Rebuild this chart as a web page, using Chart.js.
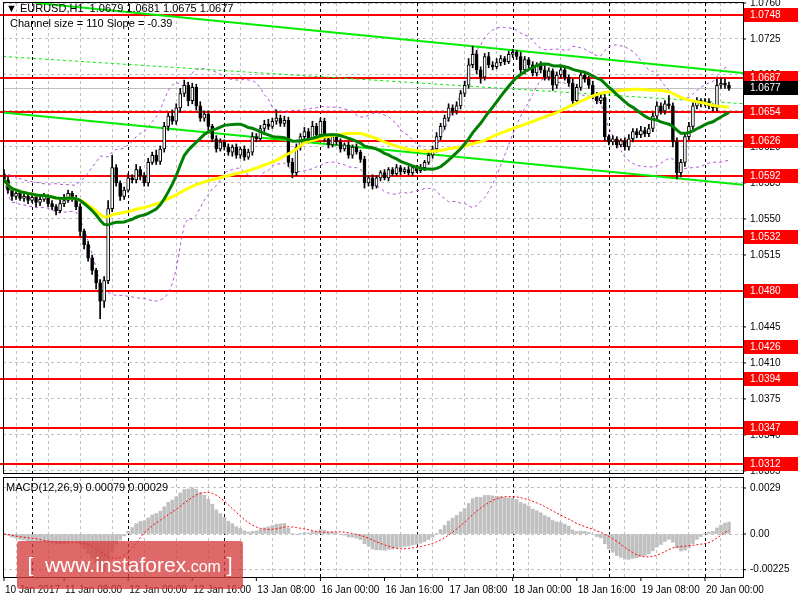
<!DOCTYPE html>
<html>
<head>
<meta charset="utf-8">
<script src="https://cdn.jsdelivr.net/npm/chart.js@4.4.1/dist/chart.umd.min.js"></script>
<style>
  body { margin: 0; background: #fff; width: 800px; height: 600px; overflow: hidden; font-family: "Liberation Sans", sans-serif; }
  #main { position: absolute; left: 0; top: 0; }
  #macd { position: absolute; left: 0; top: 476px; }
  .txt { position: absolute; font-size: 11px; color: #000; white-space: nowrap; }
  #wm { position: absolute; left: 17px; top: 541px; width: 226px; height: 48px; background: rgba(214, 62, 62, 0.78);
        border-radius: 3px; color: #fff; font-family: "Liberation Sans", sans-serif; font-size: 21px; line-height: 48px; text-align: center; }
  #wm small { font-size: 16px; }
</style>
</head>
<body>
<canvas id="main" width="800" height="476"></canvas>
<canvas id="macd" width="800" height="124"></canvas>
<div class="txt" style="left:6px;top:2px">▼ EURUSD,H1&nbsp; 1.0679 1.0681 1.0675 1.0677</div>
<div class="txt" style="left:10px;top:17px">Channel size = 110 Slope = -0.39</div>
<div class="txt" style="left:6px;top:481px">MACD(12,26,9) 0.00079 0.00029</div>
<div id="wm">[&nbsp; www.instaforex<small>.com</small> ]</div>
<script>
// hourly closes, first candle 10 Jan 2017 17:00
const closes = [
  1.0588,1.0578,1.0572,1.0575,1.0570,1.0572,1.0568,1.0571,1.0566,1.0569,
  1.0572,1.0565,1.0562,1.0558,1.0565,1.0568,1.0575,1.0570,1.0562,1.0538,
  1.0525,1.0512,1.0500,1.0488,1.0470,1.0490,1.0560,1.0600,1.0585,1.0572,
  1.0578,1.0590,1.0588,1.0598,1.0592,1.0585,1.0605,1.0612,1.0606,1.0618,
  1.0640,1.0650,1.0645,1.0658,1.0672,1.0680,1.0665,1.0678,1.0660,1.0648,
  1.0652,1.0640,1.0628,1.0618,1.0625,1.0620,1.0615,1.0620,1.0612,1.0618,
  1.0610,1.0615,1.0630,1.0628,1.0638,1.0642,1.0640,1.0645,1.0648,1.0643,
  1.0646,1.0605,1.0595,1.0620,1.0630,1.0635,1.0628,1.0640,1.0632,1.0645,
  1.0628,1.0622,1.0630,1.0625,1.0618,1.0622,1.0612,1.0620,1.0615,1.0608,
  1.0585,1.0590,1.0582,1.0590,1.0595,1.0590,1.0598,1.0594,1.0600,1.0596,
  1.0598,1.0595,1.0600,1.0597,1.0600,1.0605,1.0612,1.0618,1.0630,1.0640,
  1.0648,1.0658,1.0655,1.0660,1.0672,1.0680,1.0700,1.0710,1.0695,1.0688,
  1.0708,1.0700,1.0698,1.0702,1.0706,1.0703,1.0710,1.0712,1.0708,1.0695,
  1.0705,1.0700,1.0692,1.0700,1.0695,1.0688,1.0694,1.0680,1.0690,1.0695,
  1.0688,1.0682,1.0665,1.0678,1.0690,1.0686,1.0680,1.0670,1.0665,1.0668,
  1.0630,1.0625,1.0628,1.0622,1.0626,1.0620,1.0628,1.0635,1.0632,1.0636,
  1.0633,1.0638,1.0650,1.0660,1.0655,1.0662,1.0660,1.0625,1.0595,1.0605,
  1.0630,1.0640,1.0660,1.0665,1.0662,1.0664,1.0660,1.0658,1.0680,1.0682,
  1.0680,1.0677
];
const firstOpen = 1.0594;
// wick extension above / below the body, in pips
const wickUp = [
  4,3,3,2,3,2,3,2,3,4, 3,2,3,2,4,6,3,2,3,3, 2,3,3,2,3,4,8,12,3,2, 3,4,3,5,3,3,4,3,5,3,
  4,3,6,4,5,5,3,4,3,4, 3,3,2,3,3,2,3,2,3,2, 3,3,4,3,3,4,5,3,8,3, 4,3,4,3,3,4,3,5,3,3,
  3,2,3,2,3,2,3,2,3,2, 3,2,3,2,2,3,2,2,3,2, 2,3,2,2,3,2,3,3,4,3, 3,4,3,4,3,4,6,8,4,3,
  3,4,3,4,3,2,3,3,2,4, 3,2,3,2,3,4,3,2,3,3, 3,2,4,3,4,3,3,4,3,4, 3,2,3,2,2,3,4,3,3,4,
  3,4,3,4,3,3,8,3,4,3, 3,4,3,3,2,3,3,2,6,5, 4,3
];
const wickDn = [
  3,3,4,3,2,3,3,2,4,3, 2,3,3,4,2,3,2,3,3,5, 4,3,4,6,17,6,3,3,3,4, 3,2,3,3,4,3,3,2,3,3,
  3,4,3,3,4,3,5,3,4,3, 3,4,3,3,2,3,3,4,3,3, 3,2,3,3,2,3,3,2,3,3, 3,4,5,3,3,2,4,3,3,3,
  3,3,2,3,3,2,3,3,2,3, 5,3,3,2,3,2,3,2,2,3, 2,2,3,2,2,3,2,3,3,3, 3,3,4,3,3,3,3,3,4,6,
  3,3,3,2,3,3,2,3,3,3, 4,3,3,3,3,3,3,5,3,3, 3,3,4,3,3,3,3,3,3,3, 4,3,3,3,2,3,3,3,3,3,
  3,3,3,3,3,3,3,5,6,4, 4,3,3,3,3,2,3,3,3,3, 3,2
];
const levels = [1.0748, 1.0687, 1.0654, 1.0626, 1.0592, 1.0532, 1.0480, 1.0426, 1.0394, 1.0347, 1.0312];
const lastPrice = 1.0677;
const priceTicks = [1.0760, 1.0725, 1.0690, 1.0655, 1.0620, 1.0585, 1.0550, 1.0515, 1.0480, 1.0445, 1.0410, 1.0375, 1.0340, 1.0305];
const macdTicks = [0.0029, 0, -0.00225];
const macdTickText = ['0.0029', '0.00', '-0.00225'];
// channel lines: [startIndex, startPrice, endIndex, endPrice]
const chanUpper = [8, 1.0760, 184.5, 1.0692];
const chanLower = [-0.25, 1.06536, 189, 1.05816];
const chanMid = [-0.25, 1.0708, 189, 1.0661];
const timeLabelIdx = [0, 15, 31, 47, 63, 79, 95, 111, 127, 143, 159, 175];
const timeLabelText = ['10 Jan 2017', '11 Jan 08:00', '12 Jan 00:00', '12 Jan 16:00', '13 Jan 08:00', '16 Jan 00:00',
  '16 Jan 16:00', '17 Jan 08:00', '18 Jan 00:00', '18 Jan 16:00', '19 Jan 08:00', '20 Jan 00:00'];
const daySepIdx = [7, 31, 55, 79, 103, 127, 151, 175];

const PIP = 0.0001;
const opens = closes.map((c, i) => i === 0 ? firstOpen : closes[i - 1]);

function sma(arr, n) {
  return arr.map((_, i) => {
    const s = arr.slice(Math.max(0, i - n + 1), i + 1);
    return s.reduce((a, b) => a + b, 0) / s.length;
  });
}
function ema(arr, n) {
  const k = 2 / (n + 1); let e = arr[0];
  return arr.map(v => (e = e + k * (v - e)));
}
function stdev(arr, n) {
  return arr.map((_, i) => {
    const s = arr.slice(Math.max(0, i - n + 1), i + 1);
    const m = s.reduce((a, b) => a + b, 0) / s.length;
    return Math.sqrt(s.reduce((a, b) => a + (b - m) * (b - m), 0) / s.length);
  });
}
const ma20 = sma(closes, 20), ma50 = sma(closes, 50), sd20 = stdev(closes, 20);
const bbUp = ma20.map((m, i) => m + 2 * sd20[i]);
const bbDn = ma20.map((m, i) => m - 2 * sd20[i]);
const e12 = ema(closes, 12), e26 = ema(closes, 26);
const macdMain = e12.map((v, i) => v - e26[i]);
const macdSig = sma(macdMain, 9);

const pts = arr => arr.map((y, x) => ({ x, y }));
const seg = s => [{ x: s[0], y: s[1] }, { x: s[2], y: s[3] }];
const xMin = -0.25, xMax = 184.5;
const font = '10px "Liberation Sans", sans-serif';

const xGrid = {
  type: 'linear', min: xMin, max: xMax, offset: false,
  afterBuildTicks: ax => { const t = []; for (let v = 7; v < xMax; v += 8) t.push({ value: v }); ax.ticks = t; },
  ticks: { display: false }, border: { display: false, dash: [3, 3] },
  grid: { color: '#c0c0c0', tickLength: 0, drawTicks: false }
};
Chart.defaults.animation = false;
Chart.defaults.elements.point.radius = 0;

const frame = {
  id: 'frame',
  beforeDatasetsDraw(chart) {
    const { ctx, chartArea: a, scales } = chart;
    ctx.save();
    ctx.strokeStyle = '#000'; ctx.lineWidth = 1; ctx.setLineDash([3, 3]);
    daySepIdx.forEach(d => {
      const x = Math.round(scales.x.getPixelForValue(d)) + 0.5;
      ctx.beginPath(); ctx.moveTo(x, a.top); ctx.lineTo(x, a.bottom); ctx.stroke();
    });
    ctx.setLineDash([]);
    if (chart.canvas.id === 'main') {
      ctx.strokeStyle = '#c0c0c0';
      const yl = Math.round(scales.y.getPixelForValue(lastPrice)) + 0.5;
      ctx.beginPath(); ctx.moveTo(a.left, yl); ctx.lineTo(a.right, yl); ctx.stroke();
      ctx.strokeStyle = '#ff0000'; ctx.lineWidth = 2;
      levels.forEach(l => {
        const y = Math.round(scales.y.getPixelForValue(l));
        ctx.beginPath(); ctx.moveTo(0, y); ctx.lineTo(a.right + 2, y); ctx.stroke();
      });
    }
    ctx.restore();
  },
  afterDraw(chart) {
    const { ctx, chartArea: a, scales } = chart;
    ctx.save();
    ctx.strokeStyle = '#000'; ctx.lineWidth = 1;
    ctx.strokeRect(a.left + 0.5, a.top - 0.5, a.right - a.left, a.bottom - a.top + 1);
    ctx.font = font; ctx.textBaseline = 'middle'; ctx.fillStyle = '#000';
    if (chart.canvas.id === 'main') {
      priceTicks.forEach(t => {
        const y = scales.y.getPixelForValue(t);
        ctx.fillText(t.toFixed(4), 750, y);
        ctx.beginPath(); ctx.moveTo(a.right, y); ctx.lineTo(a.right + 3, y); ctx.stroke();
      });
      const tag = (v, bg) => {
        const y = Math.round(scales.y.getPixelForValue(v));
        ctx.fillStyle = bg; ctx.fillRect(a.right + 1, y - 7, 54, 14);
        ctx.fillStyle = '#fff'; ctx.fillText(v.toFixed(4), 750, y + 0.5);
      };
      levels.forEach(l => tag(l, '#ff0000'));
      tag(lastPrice, '#000');
    } else {
      macdTicks.forEach((t, i) => {
        const y = scales.y.getPixelForValue(t);
        ctx.fillText(macdTickText[i], 750, y);
        ctx.beginPath(); ctx.moveTo(a.right, y); ctx.lineTo(a.right + 3, y); ctx.stroke();
      });
      ctx.textBaseline = 'top';
      timeLabelIdx.forEach((d, i) => {
        const x = scales.x.getPixelForValue(d);
        ctx.fillText(timeLabelText[i], x + 1, a.bottom + 8);
        ctx.beginPath(); ctx.moveTo(x, a.bottom); ctx.lineTo(x, a.bottom + 4); ctx.stroke();
      });
    }
    ctx.restore();
  }
};

const bodies = closes.map((c, i) => ({ x: i, y: [opens[i], c] }));
const wicks = closes.map((c, i) => ({
  x: i, y: [Math.min(opens[i], c) - wickDn[i] * PIP, Math.max(opens[i], c) + wickUp[i] * PIP]
}));
const lineDs = (label, data, color, width, dash, order) => ({
  type: 'line', label, data, borderColor: color, borderWidth: width, borderDash: dash || [],
  fill: false, tension: 0, order
});

new Chart(document.getElementById('main'), {
  type: 'bar',
  data: {
    datasets: [
      lineDs('BB upper', pts(bbUp), '#b452d6', 1, [3, 3], 8),
      lineDs('BB lower', pts(bbDn), '#b452d6', 1, [3, 3], 8),
      lineDs('Channel upper', seg(chanUpper), '#00ee00', 2, null, 7),
      lineDs('Channel lower', seg(chanLower), '#00ee00', 2, null, 7),
      lineDs('Channel mid', seg(chanMid), '#00ee00', 1, [3, 3], 7),
      { label: 'wick', data: wicks, backgroundColor: '#000', barThickness: 1, grouped: false, order: 6 },
      { label: 'body', data: bodies, grouped: false, order: 5, barThickness: 3, borderWidth: 1, borderSkipped: false,
        borderColor: '#000', minBarLength: 1,
        backgroundColor: closes.map((c, i) => c >= opens[i] ? '#fff' : '#000') },
      lineDs('MA50', pts(ma50), '#ffff00', 3, null, 2),
      lineDs('MA20', pts(ma20), '#008000', 3, null, 1)
    ]
  },
  options: {
    responsive: false, maintainAspectRatio: false,
    layout: { padding: { left: 3, right: 57, top: 3, bottom: 3 } },
    plugins: { legend: { display: false }, tooltip: { enabled: false } },
    scales: {
      x: xGrid,
      y: {
        position: 'right', min: 1.0303, max: 1.0760,
        afterBuildTicks: ax => { ax.ticks = priceTicks.map(v => ({ value: v })); },
        ticks: { display: false }, border: { display: false, dash: [3, 3] },
        grid: { color: '#c0c0c0', drawTicks: false, tickLength: 0 }
      }
    }
  },
  plugins: [frame]
});

new Chart(document.getElementById('macd'), {
  type: 'bar',
  data: {
    datasets: [
      { label: 'MACD', data: pts(macdMain), backgroundColor: '#c0c0c0', barThickness: 3, grouped: false, order: 2 },
      lineDs('Signal', pts(macdSig), '#ff0000', 1, [2, 2], 1)
    ]
  },
  options: {
    responsive: false, maintainAspectRatio: false,
    layout: { padding: { left: 3, right: 57, top: 2, bottom: 23 } },
    plugins: { legend: { display: false }, tooltip: { enabled: false } },
    scales: {
      x: xGrid,
      y: {
        position: 'right', min: -0.00271, max: 0.00353,
        afterBuildTicks: ax => { ax.ticks = macdTicks.map(v => ({ value: v })); },
        ticks: { display: false }, border: { display: false, dash: [3, 3] },
        grid: { color: '#c0c0c0', drawTicks: false, tickLength: 0 }
      }
    }
  },
  plugins: [frame]
});
</script>
</body>
</html>
